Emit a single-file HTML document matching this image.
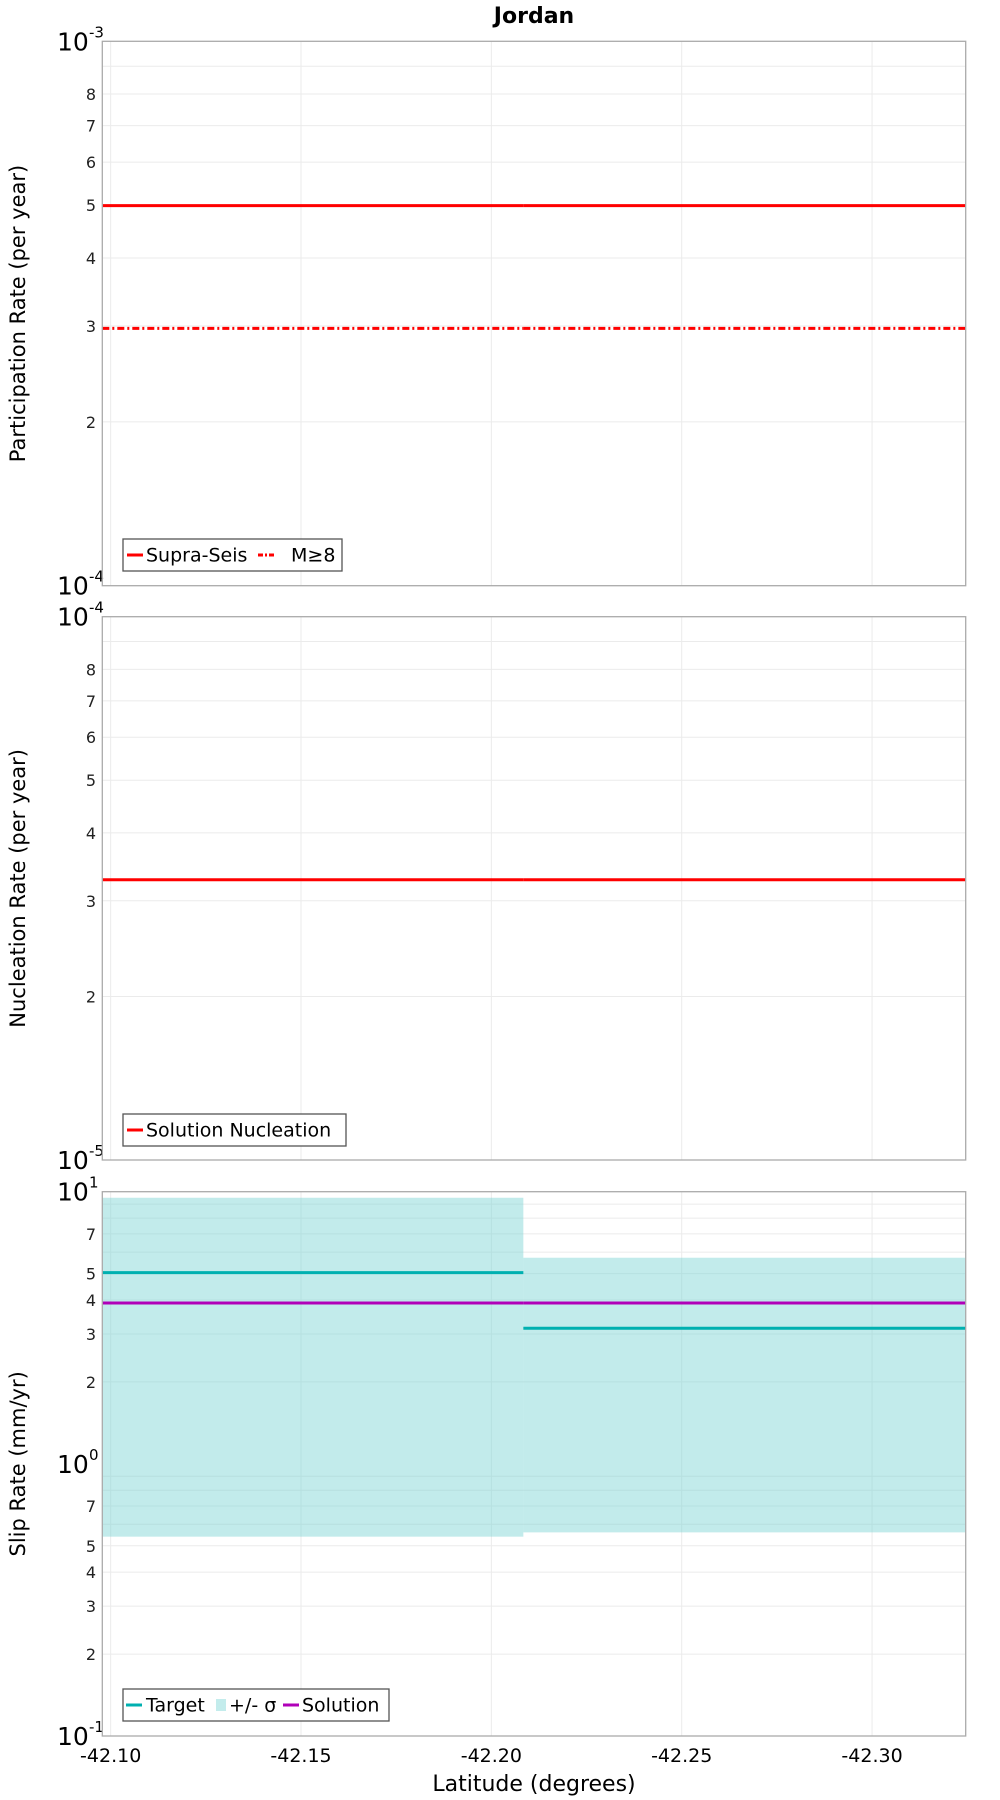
<!DOCTYPE html>
<html><head><meta charset="utf-8"><style>
html,body{margin:0;padding:0;background:#fff;}
svg{display:block;font-family:"DejaVu Sans","Liberation Sans",sans-serif;}
</style></head><body>
<svg id="chart" width="1000" height="1800" viewBox="0 0 1000 1800" xmlns="http://www.w3.org/2000/svg">
<text x="534" y="23" text-anchor="middle" font-size="22" font-weight="bold" fill="#000">Jordan</text>
<g id="layer"></g>
</svg>
<script>
const xTicks = [-42.10, -42.15, -42.20, -42.25, -42.30];
const xTickLabels = ["-42.10", "-42.15", "-42.20", "-42.25", "-42.30"];
const segBounds = [-42.0978, -42.2084, -42.3246];
const supraSeis = [4.99e-4, 4.99e-4];
const mGe8 = [2.97e-4, 2.97e-4];
const nucleation = [3.28e-5, 3.28e-5];
const targetSlip = [5.04, 3.15];
const sigmaHigh = [9.5, 5.72];
const sigmaLow = [0.54, 0.56];
const solutionSlip = [3.9, 3.9];

const NS = "http://www.w3.org/2000/svg";
const layer = document.getElementById('layer');
const X0 = 102.3, X1 = 965.7;
const xMin = segBounds[0], xMax = segBounds[2];
function xs(v){ return X0 + (v - xMin) / (xMax - xMin) * (X1 - X0); }
function mk(tag, attrs, parent){
  const e = document.createElementNS(NS, tag);
  for (const k in attrs) e.setAttribute(k, attrs[k]);
  (parent || layer).appendChild(e);
  return e;
}
function makeY(top, bottom, lo, hi){
  return v => bottom - (Math.log10(v) - Math.log10(lo)) / (Math.log10(hi) - Math.log10(lo)) * (bottom - top);
}
function panel(name, top, bottom, loExp, hiExp, minorLabels, title){
  const g = mk('g', {});
  
  
  const lo = Math.pow(10, loExp), hi = Math.pow(10, hiExp);
  const ys = makeY(top, bottom, lo, hi);
  // grid
  for (let e = loExp; e < hiExp; e++) {
    for (let m = 2; m <= 9; m++) {
      const y = ys(m * Math.pow(10, e));
      const l = mk('line', {x1: X0, x2: X1, y1: y, y2: y, stroke: '#ebebeb', 'stroke-width': 1}, g);
      
      
      if (minorLabels.indexOf(m) >= 0) {
        const t = mk('text', {x: 96, y: y + 6, 'text-anchor': 'end', 'font-size': 16, fill: '#222'}, g);
        t.textContent = String(m);
        
        
      }
    }
  }
  xTicks.forEach(v => {
    const l = mk('line', {x1: xs(v), x2: xs(v), y1: top, y2: bottom, stroke: '#ebebeb', 'stroke-width': 1}, g);
    
    
  });
  for (let e = loExp; e <= hiExp; e++) {
    const y = ys(Math.pow(10, e));
    const t = mk('text', {x: 57, y: y + 9, 'font-size': 25, fill: '#000'}, g);
    t.textContent = '10';
    
    
    const s = mk('text', {x: 89, y: y - 4, 'font-size': 15, fill: '#000'}, g);
    s.textContent = String(e);
    
    
  }
  const yt = mk('text', {x: 0, y: 0, transform: 'translate(25,' + ((top + bottom) / 2) + ') rotate(-90)', 'text-anchor': 'middle', 'font-size': 21, fill: '#000'}, g);
  yt.textContent = title;
  
  
  return {g, ys, top, bottom};
}
function frame(p){
  const r = mk('rect', {x: X0, y: p.top, width: X1 - X0, height: p.bottom - p.top, fill: 'none', stroke: '#aaa', 'stroke-width': 1.3}, p.g);
  
  
}
function stepLine(p, vals, color, name, dash){
  vals.forEach((v, i) => {
    const a = {x1: xs(segBounds[i]), x2: xs(segBounds[i + 1]), y1: p.ys(v), y2: p.ys(v), stroke: color, 'stroke-width': 3};
    if (dash) a['stroke-dasharray'] = dash;
    const l = mk('line', a, p.g);
    
    
  });
}
function legend(p, x, y, w, h, items){
  const lg = mk('g', {}, p.g);
  
  
  mk('rect', {x: x, y: y, width: w, height: h, fill: '#fff', stroke: '#555', 'stroke-width': 1.3}, lg);
  items.forEach(it => {
    const e = mk('g', {}, lg);
    
    
    if (it.box) mk('rect', {x: it.x, y: y + h / 2 - 6, width: 10, height: 12, fill: it.color}, e);
    else {
      const a = {x1: it.x, x2: it.x + 16, y1: y + h / 2, y2: y + h / 2, stroke: it.color, 'stroke-width': 3};
      if (it.dash) a['stroke-dasharray'] = it.dash;
      mk('line', a, e);
    }
    const t = mk('text', {x: it.tx, y: y + h / 2 + 6.5, 'font-size': 19, fill: '#000'}, e);
    t.textContent = it.label;
  });
}

// Panel 1
const p1 = panel('participation-panel', 41.3, 585.7, -4, -3, [2,3,4,5,6,7,8], 'Participation Rate (per year)');
stepLine(p1, supraSeis, '#ff0000', 'supra-seis-line');
stepLine(p1, mGe8, '#ff0000', 'm8-line', '7,3,2,3');
frame(p1);
legend(p1, 123, 539, 219, 32, [
  {x: 127, tx: 146, color: '#ff0000', label: 'Supra-Seis'},
  {x: 258, tx: 291, color: '#ff0000', label: 'M\u22658', dash: '5,2,2,2'}]);

// Panel 2
const p2 = panel('nucleation-panel', 616.7, 1160, -5, -4, [2,3,4,5,6,7,8], 'Nucleation Rate (per year)');
stepLine(p2, nucleation, '#ff0000', 'nucleation-line');
frame(p2);
legend(p2, 123, 1114, 223, 32, [
  {x: 127, tx: 146, color: '#ff0000', label: 'Solution Nucleation'}]);

// Panel 3
const p3 = panel('slip-rate-panel', 1191.7, 1736, -1, 1, [2,3,4,5,7], 'Slip Rate (mm/yr)');
sigmaHigh.forEach((v, i) => {
  const r = mk('rect', {x: xs(segBounds[i]), y: p3.ys(v), width: xs(segBounds[i + 1]) - xs(segBounds[i]), height: p3.ys(sigmaLow[i]) - p3.ys(v), fill: 'rgba(120,210,210,0.45)'}, p3.g);
  
  
});
stepLine(p3, targetSlip, '#00b0b0', 'target-line');
stepLine(p3, solutionSlip, '#b000b8', 'solution-line');
frame(p3);
legend(p3, 123, 1689, 266, 32, [
  {x: 126, tx: 146, color: '#00b0b0', label: 'Target'},
  {x: 216, tx: 229, color: '#c3ecec', label: '+/- \u03c3', box: true},
  {x: 283, tx: 302, color: '#b000b8', label: 'Solution'}]);

// x axis labels
xTicks.forEach((v, i) => {
  const t = mk('text', {x: xs(v), y: 1762, 'text-anchor': 'middle', 'font-size': 19, fill: '#000'});
  t.textContent = xTickLabels[i];
  
  
});
const xt = mk('text', {x: 534, y: 1791, 'text-anchor': 'middle', 'font-size': 22, fill: '#000'});
xt.textContent = 'Latitude (degrees)';


</script>
</body></html>
